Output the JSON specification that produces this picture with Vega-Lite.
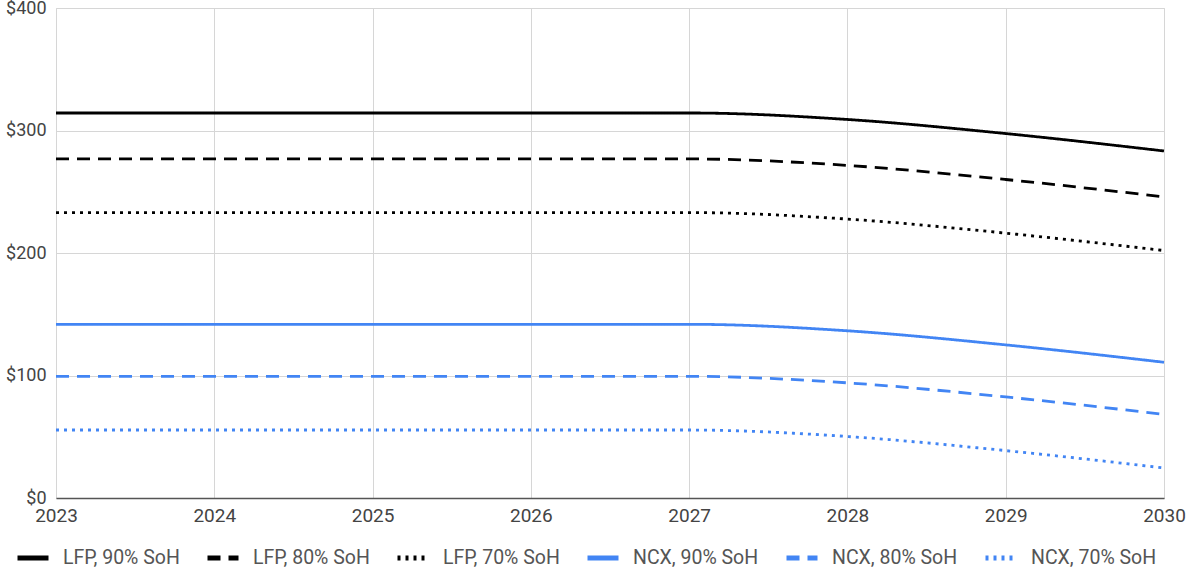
{
  "$schema": "https://vega.github.io/schema/vega-lite/v6.json",
  "width": 1108,
  "height": 490,
  "autosize": {"type": "none"},
  "padding": {"left": 56, "top": 8, "right": 23, "bottom": 71},
  "background": "white",
  "data": {
    "values": [
      {"s": "LFP, 90% SoH", "year": 2023, "v": 314.3},
      {"s": "LFP, 90% SoH", "year": 2024, "v": 314.3},
      {"s": "LFP, 90% SoH", "year": 2025, "v": 314.3},
      {"s": "LFP, 90% SoH", "year": 2026, "v": 314.3},
      {"s": "LFP, 90% SoH", "year": 2027, "v": 314.3},
      {"s": "LFP, 90% SoH", "year": 2028, "v": 309},
      {"s": "LFP, 90% SoH", "year": 2029, "v": 297.5},
      {"s": "LFP, 90% SoH", "year": 2030, "v": 283.3},
      {"s": "LFP, 80% SoH", "year": 2023, "v": 276.8},
      {"s": "LFP, 80% SoH", "year": 2024, "v": 276.8},
      {"s": "LFP, 80% SoH", "year": 2025, "v": 276.8},
      {"s": "LFP, 80% SoH", "year": 2026, "v": 276.8},
      {"s": "LFP, 80% SoH", "year": 2027, "v": 276.8},
      {"s": "LFP, 80% SoH", "year": 2028, "v": 271.5},
      {"s": "LFP, 80% SoH", "year": 2029, "v": 260},
      {"s": "LFP, 80% SoH", "year": 2030, "v": 245.8},
      {"s": "LFP, 70% SoH", "year": 2023, "v": 233},
      {"s": "LFP, 70% SoH", "year": 2024, "v": 233},
      {"s": "LFP, 70% SoH", "year": 2025, "v": 233},
      {"s": "LFP, 70% SoH", "year": 2026, "v": 233},
      {"s": "LFP, 70% SoH", "year": 2027, "v": 233},
      {"s": "LFP, 70% SoH", "year": 2028, "v": 227.7},
      {"s": "LFP, 70% SoH", "year": 2029, "v": 216.2},
      {"s": "LFP, 70% SoH", "year": 2030, "v": 202},
      {"s": "NCX, 90% SoH", "year": 2023, "v": 141.8},
      {"s": "NCX, 90% SoH", "year": 2024, "v": 141.8},
      {"s": "NCX, 90% SoH", "year": 2025, "v": 141.8},
      {"s": "NCX, 90% SoH", "year": 2026, "v": 141.8},
      {"s": "NCX, 90% SoH", "year": 2027, "v": 141.8},
      {"s": "NCX, 90% SoH", "year": 2028, "v": 136.5},
      {"s": "NCX, 90% SoH", "year": 2029, "v": 125},
      {"s": "NCX, 90% SoH", "year": 2030, "v": 110.8},
      {"s": "NCX, 80% SoH", "year": 2023, "v": 99.3},
      {"s": "NCX, 80% SoH", "year": 2024, "v": 99.3},
      {"s": "NCX, 80% SoH", "year": 2025, "v": 99.3},
      {"s": "NCX, 80% SoH", "year": 2026, "v": 99.3},
      {"s": "NCX, 80% SoH", "year": 2027, "v": 99.3},
      {"s": "NCX, 80% SoH", "year": 2028, "v": 94},
      {"s": "NCX, 80% SoH", "year": 2029, "v": 82.5},
      {"s": "NCX, 80% SoH", "year": 2030, "v": 68.3},
      {"s": "NCX, 70% SoH", "year": 2023, "v": 55.5},
      {"s": "NCX, 70% SoH", "year": 2024, "v": 55.5},
      {"s": "NCX, 70% SoH", "year": 2025, "v": 55.5},
      {"s": "NCX, 70% SoH", "year": 2026, "v": 55.5},
      {"s": "NCX, 70% SoH", "year": 2027, "v": 55.5},
      {"s": "NCX, 70% SoH", "year": 2028, "v": 50.2},
      {"s": "NCX, 70% SoH", "year": 2029, "v": 38.7},
      {"s": "NCX, 70% SoH", "year": 2030, "v": 24.5}
    ]
  },
  "mark": {"type": "line", "interpolate": "monotone", "strokeWidth": 2.8, "clip": false},
  "encoding": {
    "x": {
      "field": "year",
      "type": "quantitative",
      "scale": {"domain": [2023, 2030], "nice": false, "zero": false},
      "axis": {
        "title": null,
        "values": [2023, 2024, 2025, 2026, 2027, 2028, 2029, 2030],
        "format": "d",
        "ticks": false,
        "labelPadding": 8,
        "labelFontSize": 19,
        "labelColor": "#444444",
        "labelFont": "Roboto",
        "domainColor": "#555555",
        "domainWidth": 1.5,
        "gridColor": "#d6d6d6",
        "gridWidth": 1,
        "labelFlush": false
      }
    },
    "y": {
      "field": "v",
      "type": "quantitative",
      "scale": {"domain": [0, 400], "nice": false},
      "axis": {
        "title": null,
        "values": [0, 100, 200, 300, 400],
        "format": "$.0f",
        "ticks": false,
        "domain": false,
        "labelPadding": 10,
        "labelFontSize": 18,
        "labelColor": "#444444",
        "labelFont": "Roboto",
        "gridColor": "#d6d6d6",
        "gridWidth": 1
      }
    },
    "color": {
      "field": "s",
      "type": "nominal",
      "scale": {
        "domain": ["LFP, 90% SoH", "LFP, 80% SoH", "LFP, 70% SoH", "NCX, 90% SoH", "NCX, 80% SoH", "NCX, 70% SoH"],
        "range": ["#000000", "#000000", "#000000", "#4285F4", "#4285F4", "#4285F4"]
      },
      "legend": {
        "title": null,
        "orient": "none",
        "direction": "horizontal",
        "legendX": -41,
        "legendY": 532,
        "symbolType": "stroke",
        "symbolSize": 961,
        "symbolStrokeWidth": 5,
        "labelOffset": 12,
        "columnPadding": 17,
        "labelFontSize": 19.5,
        "labelColor": "#555555",
        "labelFont": "Roboto"
      }
    },
    "strokeDash": {
      "field": "s",
      "type": "nominal",
      "scale": {
        "domain": ["LFP, 90% SoH", "LFP, 80% SoH", "LFP, 70% SoH", "NCX, 90% SoH", "NCX, 80% SoH", "NCX, 70% SoH"],
        "range": [[1, 0], [13, 8], [3, 5], [1, 0], [13, 8], [3, 5]]
      },
      "legend": null
    }
  },
  "config": {
    "view": {"stroke": "#d6d6d6"}
  }
}
